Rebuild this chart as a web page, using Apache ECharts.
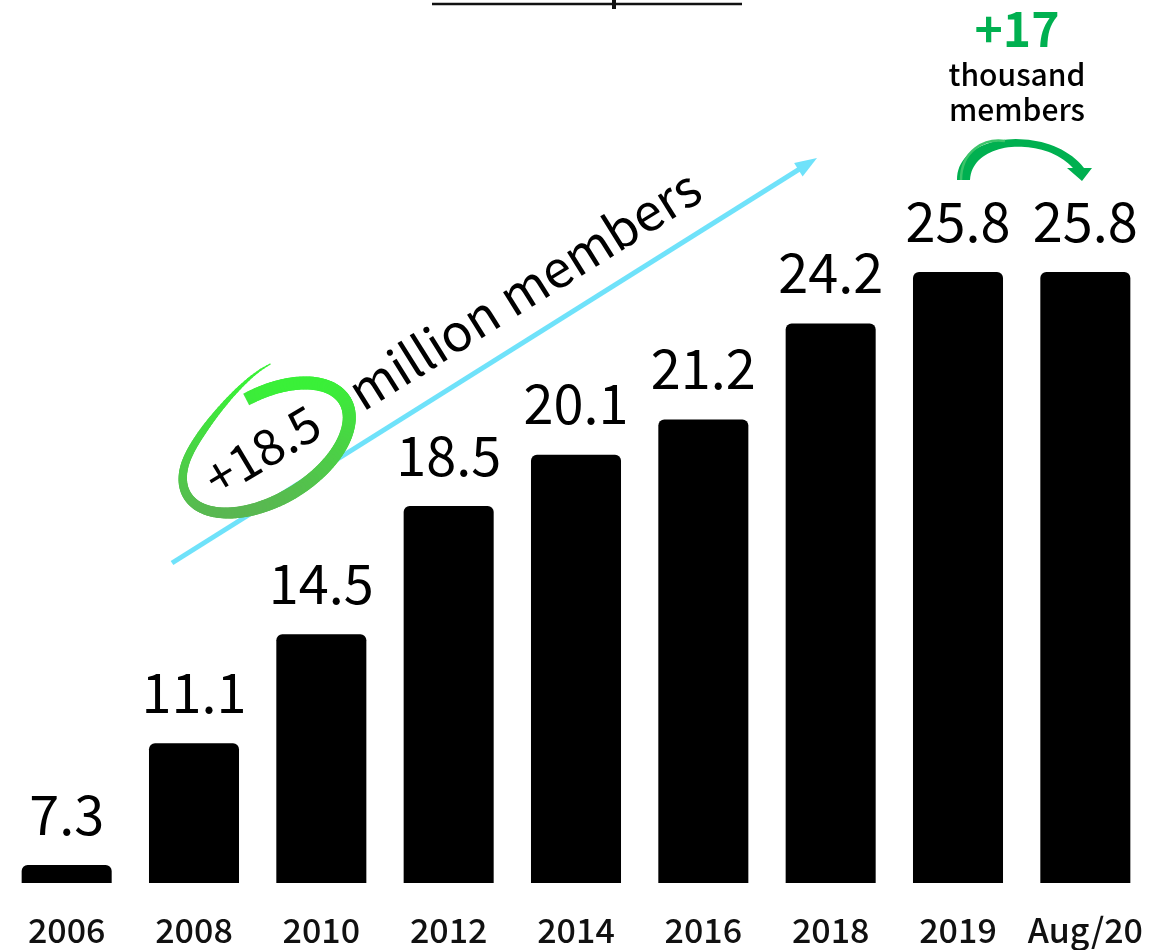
<!DOCTYPE html>
<html>
<head>
<meta charset="utf-8">
<script src="https://cdn.jsdelivr.net/npm/echarts@6/dist/echarts.min.js"></script>
<style>
  html, body { margin: 0; padding: 0; background: #ffffff; }
  #chart { width: 1168px; height: 950px; }
</style>
</head>
<body>
<div id="chart"></div>
<script>
// Membership, in millions, by year
const categories = ['2006', '2008', '2010', '2012', '2014', '2016', '2018', '2019', 'Aug/20'];
const members = [7.3, 11.1, 14.5, 18.5, 20.1, 21.2, 24.2, 25.8, 25.8];

// Callout texts
const growthLabel = '+18.5';
const growthUnit = 'million members';
const recentLabel = '+17';
const recentUnit = ['thousand', 'members'];

const FONT = '"Noto Sans CJK JP", "Noto Sans", sans-serif';
const DEG = Math.PI / 180;

// Long cyan trend arrow
function trendArrow() {
  const x1 = 172, y1 = 563, x2 = 817, y2 = 158;
  const len = Math.hypot(x2 - x1, y2 - y1);
  const ux = (x2 - x1) / len, uy = (y2 - y1) / len;
  const nx = -uy, ny = ux;
  const headLen = 22, headHalf = 8;
  const bx = x2 - ux * headLen, by = y2 - uy * headLen;
  const color = '#6fe2fa';
  return [
    { type: 'line', z: 1, shape: { x1: x1, y1: y1, x2: bx + ux * 4, y2: by + uy * 4 },
      style: { stroke: color, lineWidth: 5 } },
    { type: 'polygon', z: 1, shape: { points: [[x2, y2], [bx + nx * headHalf, by + ny * headHalf], [bx - nx * headHalf, by - ny * headHalf]] },
      style: { fill: color } }
  ];
}

// Hand-drawn style ring around the growth figure
function ring() {
  const cx = 266, cy = 448, A = 92, B = 52, phi = -31 * DEG;
  const pt = (tDeg) => {
    const t = tDeg * DEG;
    const grow = tDeg > 220 ? 1 + 0.55 * Math.pow((tDeg - 220) / 80, 2) : 1;
    const lx = A * Math.cos(t), ly = B * grow * Math.sin(t);
    return [cx + lx * Math.cos(phi) - ly * Math.sin(phi), cy + lx * Math.sin(phi) + ly * Math.cos(phi)];
  };
  const colorAt = (y) => {
    const k = Math.min(1, Math.max(0, (y - 385) / 130));
    const r = Math.round(58 + (90 - 58) * k), g = Math.round(240 + (182 - 240) * k), b = Math.round(56 + (82 - 56) * k);
    return 'rgb(' + r + ',' + g + ',' + b + ')';
  };
  const width = (t) => {
    if (t < 90) return 13;
    if (t < 180) return 13 - 4 * (t - 90) / 90;
    if (t < 240) return 9 - 2 * (t - 180) / 60;
    return Math.max(1, 7 - 6 * (t - 240) / 60);
  };
  const out = [];
  // soft shadow under the body of the ring
  const shadowPts = [];
  for (let t = -85; t <= 230; t += 3) shadowPts.push(pt(t));
  out.push({ type: 'polyline', z: 2, shape: { points: shadowPts },
    style: { stroke: 'rgba(255,255,255,0.01)', lineWidth: 9, lineJoin: 'round',
      shadowBlur: 7, shadowColor: 'rgba(0,0,0,0.4)', shadowOffsetX: 2, shadowOffsetY: 4 } });
  for (let t = -85; t < 300; t += 2.5) {
    const p = pt(t), q = pt(t + 3);
    out.push({ type: 'line', z: 3, shape: { x1: p[0], y1: p[1], x2: q[0], y2: q[1] },
      style: { stroke: colorAt((p[1] + q[1]) / 2), lineWidth: width(t), lineCap: t < -80 ? 'butt' : 'round' } });
  }
  return out;
}

// Points along a cubic Bezier curve
function cubic(p0, p1, p2, p3, n) {
  const pts = [];
  for (let i = 0; i <= n; i++) {
    const t = i / n, u = 1 - t;
    pts.push([
      u * u * u * p0[0] + 3 * u * u * t * p1[0] + 3 * u * t * t * p2[0] + t * t * t * p3[0],
      u * u * u * p0[1] + 3 * u * u * t * p1[1] + 3 * u * t * t * p2[1] + t * t * t * p3[1]
    ]);
  }
  return pts;
}

// Small green curved arrow between the last two bars
function recentArrow() {
  const green = '#00b050';
  const outer = cubic([957, 180], [956, 132], [1050, 124], [1084, 168], 40);
  const inner = cubic([1073, 168], [1044, 136], [972, 140], [970, 180], 40);
  const shape = outer.concat([[1092, 168], [1082, 181], [1067, 168]], inner);
  return [
    { type: 'polygon', z: 3, shape: { points: shape }, style: { fill: green } },
    { type: 'bezierCurve', z: 4, shape: { x1: 961, y1: 180, cpx1: 961, cpy1: 150, cpx2: 985, cpy2: 138, x2: 1005, y2: 141 },
      style: { stroke: '#3cc46a', lineWidth: 2.5, fill: null } }
  ];
}

const chart = echarts.init(document.getElementById('chart'), null, { renderer: 'canvas' });

chart.setOption({
  backgroundColor: '#ffffff',
  animation: false,
  grid: { left: 3, right: 19, top: 0, bottom: 67, containLabel: false },
  xAxis: {
    type: 'category',
    data: categories,
    axisLine: { show: false },
    axisTick: { show: false },
    axisLabel: { interval: 0, color: '#111111', fontFamily: FONT, fontSize: 34, fontWeight: 500, margin: 30 }
  },
  yAxis: {
    type: 'value',
    min: 6.74,
    max: 34.29,
    show: false,
    splitLine: { show: false }
  },
  series: [{
    type: 'bar',
    data: members,
    barWidth: '70.7%',
    itemStyle: { color: '#000000', borderRadius: [6, 6, 0, 0] },
    label: {
      show: true,
      position: 'top',
      distance: 24,
      color: '#000000',
      fontFamily: FONT,
      fontSize: 54,
      fontWeight: 400,
      formatter: (p) => p.value.toFixed(1)
    }
  }],
  graphic: [
    // underline of the heading above
    { type: 'line', shape: { x1: 432, y1: 4, x2: 742, y2: 4 }, style: { stroke: '#111111', lineWidth: 2.5 } },
    { type: 'rect', shape: { x: 612, y: 0, width: 4, height: 9 }, style: { fill: '#111111' } },
    ...trendArrow(),
    ...ring(),
    { type: 'text', z: 5, x: 262, y: 450, rotation: 31 * DEG,
      style: { text: growthLabel, fill: '#000000', font: '400 50px ' + FONT, align: 'center', verticalAlign: 'middle' } },
    { type: 'text', z: 5, x: 524, y: 289, rotation: 32 * DEG,
      style: { text: growthUnit, fill: '#000000', font: '400 51px ' + FONT, align: 'center', verticalAlign: 'middle' } },
    ...recentArrow(),
    { type: 'text', z: 5, x: 1017, y: 29,
      style: { text: recentLabel, fill: '#00b050', font: '700 48px ' + FONT, align: 'center', verticalAlign: 'middle' } },
    { type: 'text', z: 5, x: 1017, y: 75,
      style: { text: recentUnit[0], fill: '#000000', font: '500 30px ' + FONT, align: 'center', verticalAlign: 'middle' } },
    { type: 'text', z: 5, x: 1017, y: 110,
      style: { text: recentUnit[1], fill: '#000000', font: '500 30px ' + FONT, align: 'center', verticalAlign: 'middle' } }
  ]
});
</script>
</body>
</html>
